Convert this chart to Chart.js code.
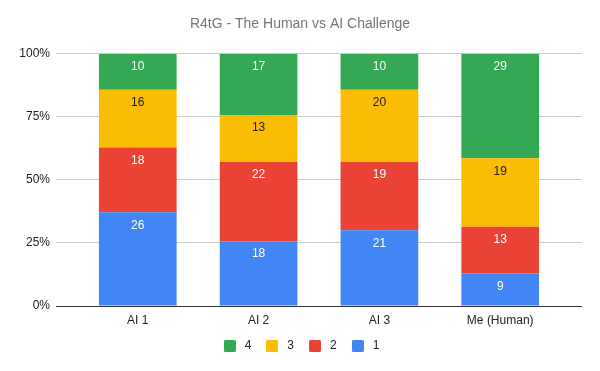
<!DOCTYPE html>
<html>
<head>
<meta charset="utf-8">
<script src="https://cdn.jsdelivr.net/npm/chart.js@4/dist/chart.umd.min.js"></script>
<style>
  html, body { margin: 0; padding: 0; background: #fff; }
  #wrap { width: 600px; height: 371px; }
</style>
</head>
<body>
<div id="wrap"><canvas id="c"></canvas></div>
<script>
const cats = ['AI 1', 'AI 2', 'AI 3', 'Me (Human)'];
const s1 = [26, 18, 21, 9];
const s2 = [18, 22, 19, 13];
const s3 = [16, 13, 20, 19];
const s4 = [10, 17, 10, 29];
const yTicks = [0, 25, 50, 75, 100];

const series = [
  { label: '1', vals: s1, color: '#4285F4', text: '#fff' },
  { label: '2', vals: s2, color: '#EA4335', text: '#fff' },
  { label: '3', vals: s3, color: '#FBBC04', text: '#212121' },
  { label: '4', vals: s4, color: '#34A853', text: '#fff' }
];
const totals = cats.map((_, i) => series.reduce((a, s) => a + s.vals[i], 0));

// small square swatches for the legend
const swatches = series.map(s => {
  const cv = document.createElement('canvas');
  cv.width = 12; cv.height = 12;
  const g = cv.getContext('2d');
  g.fillStyle = s.color;
  g.beginPath(); g.roundRect(0, 0, 12, 12, 1.5); g.fill();
  return cv;
});

const segLabels = {
  id: 'segLabels',
  afterDatasetsDraw(chart) {
    const ctx = chart.ctx;
    ctx.save();
    ctx.font = '12px "Liberation Sans", Arial, sans-serif';
    ctx.textAlign = 'center';
    ctx.textBaseline = 'middle';
    chart.data.datasets.forEach((ds, di) => {
      chart.getDatasetMeta(di).data.forEach((bar, i) => {
        const p = bar.getProps(['x', 'y'], true);
        ctx.fillStyle = series[di].text;
        ctx.fillText(series[di].vals[i], p.x, p.y + 13);
      });
    });
    ctx.restore();
  }
};

new Chart(document.getElementById('c'), {
  type: 'bar',
  data: {
    datasets: series.map(s => ({
      label: s.label,
      data: s.vals.map((v, i) => ({ x: i, y: v / totals[i] * 100 })),
      backgroundColor: s.color,
      borderWidth: 0,
      barPercentage: 0.643,
      categoryPercentage: 1
    }))
  },
  options: {
    responsive: true,
    maintainAspectRatio: false,
    animation: false,
    layout: { padding: { left: 18, right: 18, top: 0, bottom: 9 } },
    plugins: {
      title: {
        display: true,
        text: 'R4tG - The Human vs AI Challenge',
        color: '#757575',
        font: { family: '"Liberation Sans", Arial, sans-serif', size: 14, weight: 'normal', lineHeight: 1.2 },
        padding: { top: 16, bottom: 21 }
      },
      legend: {
        position: 'bottom',
        reverse: true,
        labels: {
          usePointStyle: true,
          pointStyleWidth: 18,
          boxHeight: 12,
          padding: 12,
          color: '#222',
          font: { family: '"Liberation Sans", Arial, sans-serif', size: 12 },
          generateLabels: ch => Chart.defaults.plugins.legend.labels.generateLabels(ch)
            .map(l => Object.assign(l, { pointStyle: swatches[l.datasetIndex] }))
        }
      },
      tooltip: { enabled: false }
    },
    scales: {
      x: {
        type: 'linear',
        stacked: true,
        offset: false,
        min: -0.677,
        max: 3.677,
        grid: { display: false, drawTicks: false },
        border: { display: false },
        afterBuildTicks: sc => { sc.ticks = cats.map((_, i) => ({ value: i })); },
        afterFit: sc => { sc.height = 22; },
        ticks: {
          padding: 7,
          color: '#222',
          autoSkip: false,
          maxRotation: 0,
          font: { family: '"Liberation Sans", Arial, sans-serif', size: 12 },
          callback: v => cats[v]
        }
      },
      y: {
        stacked: true,
        min: 0,
        max: 100,
        afterBuildTicks: sc => { sc.ticks = yTicks.map(v => ({ value: v })); },
        afterFit: sc => { sc.width = 38; },
        border: { display: false },
        grid: {
          drawTicks: false,
          color: c => c.tick && c.tick.value === 0 ? '#333' : '#ccc',
          lineWidth: 1
        },
        ticks: {
          padding: 6,
          color: '#222',
          font: { family: '"Liberation Sans", Arial, sans-serif', size: 12 },
          callback: v => v + '%'
        }
      }
    }
  },
  plugins: [segLabels]
});
</script>
</body>
</html>
